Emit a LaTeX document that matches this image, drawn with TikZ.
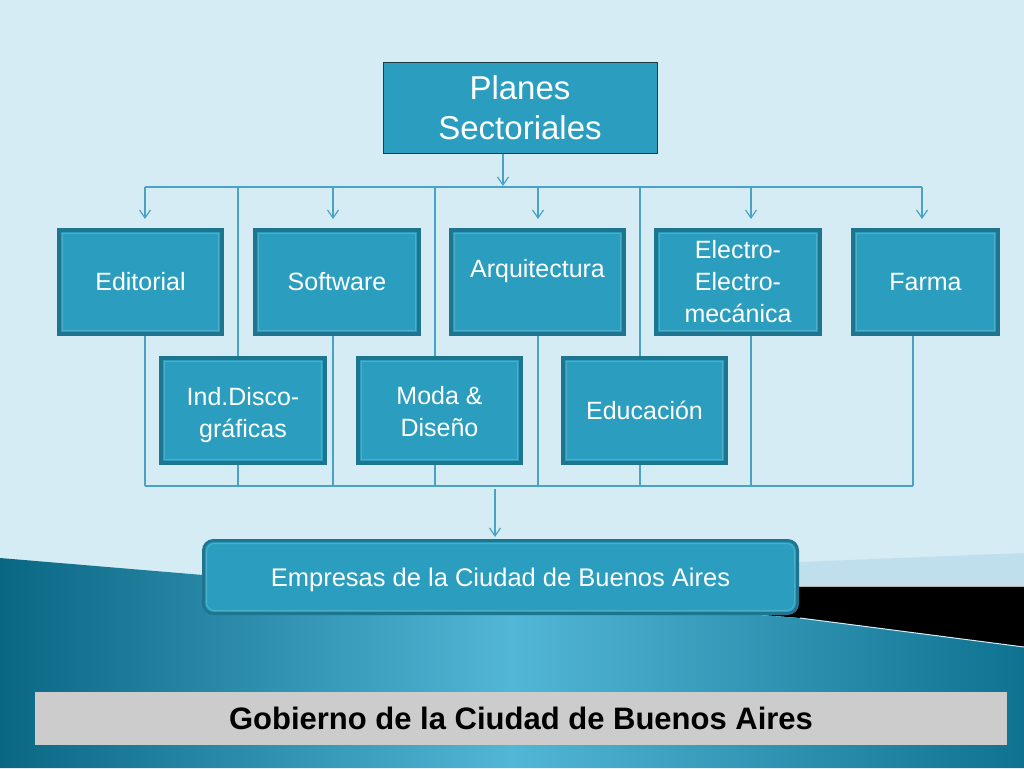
\documentclass[tikz,border=0pt]{standalone}
\usepackage{fontspec}
\setmainfont{Liberation Sans}
\usetikzlibrary{arrows.meta}
\definecolor{bgc}{HTML}{D5ECF5}
\definecolor{boxfill}{HTML}{2B9EBF}
\definecolor{boxborder}{HTML}{1E7590}
\definecolor{boxinner}{HTML}{4AAFCB}
\definecolor{connc}{HTML}{4AA3C6}
\definecolor{tealdark}{HTML}{0A6784}
\definecolor{teallight}{HTML}{52B6D6}
\definecolor{tealright}{HTML}{0F7291}
\definecolor{bandc}{HTML}{BEDFEB}
\definecolor{barc}{HTML}{CCCCCC}
\definecolor{planesborder}{HTML}{1E3A44}
\begin{document}
\begin{tikzpicture}[x=1pt,y=-1pt,
  box/.style={draw=boxborder, line width=4pt, fill=boxfill, text=white, align=center,
    inner sep=0pt, minimum height=104pt,
    font=\fontsize{25}{32}\selectfont,
    path picture={\draw[boxinner, line width=1pt]
      ([shift={(3.5pt,-3.5pt)}]path picture bounding box.north west) rectangle
      ([shift={(-3.5pt,3.5pt)}]path picture bounding box.south east);}},
  conn/.style={draw=connc, line width=1.2pt},
  arr/.style={conn, -{Straight Barb[length=8pt,width=11pt]}}
]
\useasboundingbox (0,0) rectangle (1024,768);
% background
\fill[bgc] (0,0) rectangle (1024,768);
\fill[bandc] (700,566) -- (1024,553) -- (1024,586) -- (700,586) -- cycle;
\fill[black] (700,586) -- (1024,586) -- (1024,647) -- (800,618) -- (700,610) -- cycle;
\draw[gray!60, line width=0.8pt] (700,586) -- (1024,586);
\shade[left color=tealdark, right color=tealright, middle color=teallight]
  (0,558) -- (203,575) -- (800,618) -- (1024,647) -- (1024,768) -- (0,768) -- cycle;
\draw[white!75!teallight, line width=1pt] (800,618) -- (1024,647);

% top box
\node[draw=planesborder, line width=1pt, fill=boxfill, text=white, align=center,
  minimum width=274pt, minimum height=91pt, inner sep=0pt,
  font=\fontsize{33}{40}\selectfont] (planes) at (520,107.5) {Planes\\Sectoriales};

% row 1
\node[box, minimum width=163pt] (edit) at (140.5,282) {Editorial};
\node[box, minimum width=164pt] (soft) at (337,282) {Software};
\node[box, minimum width=173pt] (arq) at (537.5,282) {\raisebox{27pt}{Arquitectura}};
\node[box, minimum width=164pt] (elec) at (738,282) {Electro-\\Electro-\\mecánica};
\node[box, minimum width=145pt] (farma) at (925.5,282) {Farma};
% row 2
\node[box, minimum width=164pt, minimum height=105pt] (disco) at (243,410.5) {\rule{0pt}{27pt}Ind.Disco-\\gráficas};
\node[box, minimum width=163pt, minimum height=105pt] (moda) at (439.5,410.5) {\rule{0pt}{21pt}Moda \&\\Diseño};
\node[box, minimum width=163pt, minimum height=105pt] (educ) at (644.5,410.5) {Educación};

% bottom box
\node[draw=boxborder, line width=3pt, fill=boxfill, rounded corners=10pt, text=white,
  minimum width=594pt, minimum height=73pt, inner sep=0pt,
  font=\fontsize{25.5}{32}\selectfont,
  path picture={\draw[boxinner, line width=1pt, rounded corners=8pt]
      ([shift={(3pt,-3pt)}]path picture bounding box.north west) rectangle
      ([shift={(-3pt,3pt)}]path picture bounding box.south east);}]
  (emp) at (500.5,577) {\rule{0pt}{25pt}Empresas de la Ciudad de Buenos Aires};

% footer bar
\node[fill=barc, minimum width=972pt, minimum height=53pt, inner sep=0pt,
  font=\fontsize{31}{36}\selectfont\bfseries, text=black] (gob) at (521,718.5)
  {Gobierno de la Ciudad de Buenos Aires};

% top bus coordinates
\coordinate (t0) at (503,187);
\coordinate (t1) at (145,187);
\coordinate (t2) at (333,187);
\coordinate (t3) at (538,187);
\coordinate (t4) at (751,187);
\coordinate (t5) at (922,187);
\coordinate (u1) at (238,187);
\coordinate (u2) at (435,187);
\coordinate (u3) at (640,187);
% bottom bus coordinates
\coordinate (b1) at (145,486);
\coordinate (b2) at (333,486);
\coordinate (b3) at (538,486);
\coordinate (b4) at (751,486);
\coordinate (b5) at (913,486);
\coordinate (v1) at (238,486);
\coordinate (v2) at (435,486);
\coordinate (v3) at (640,486);
\coordinate (bm) at (495,489);

% connectors top
\draw[arr, shorten >=1pt] (t0 |- planes.south) -- (t0);
\draw[conn] (t1) -- (t5);
\draw[arr, shorten >=9pt] (t1) -- (t1 |- edit.north);
\draw[arr, shorten >=9pt] (t2) -- (t2 |- soft.north);
\draw[arr, shorten >=9pt] (t3) -- (t3 |- arq.north);
\draw[arr, shorten >=9pt] (t4) -- (t4 |- elec.north);
\draw[arr, shorten >=9pt] (t5) -- (t5 |- farma.north);
\draw[conn] (u1) -- (u1 |- disco.north);
\draw[conn] (u2) -- (u2 |- moda.north);
\draw[conn] (u3) -- (u3 |- educ.north);

% connectors bottom
\draw[conn] (b1 |- edit.south) -- (b1);
\draw[conn] (b2 |- soft.south) -- (b2);
\draw[conn] (b3 |- arq.south) -- (b3);
\draw[conn] (b4 |- elec.south) -- (b4);
\draw[conn] (b5 |- farma.south) -- (b5);
\draw[conn] (v1 |- disco.south) -- (v1);
\draw[conn] (v2 |- moda.south) -- (v2);
\draw[conn] (v3 |- educ.south) -- (v3);
\draw[conn] (b1) -- (b5);
\draw[arr, shorten >=2pt] (bm) -- (bm |- emp.north);
\end{tikzpicture}
\end{document}
